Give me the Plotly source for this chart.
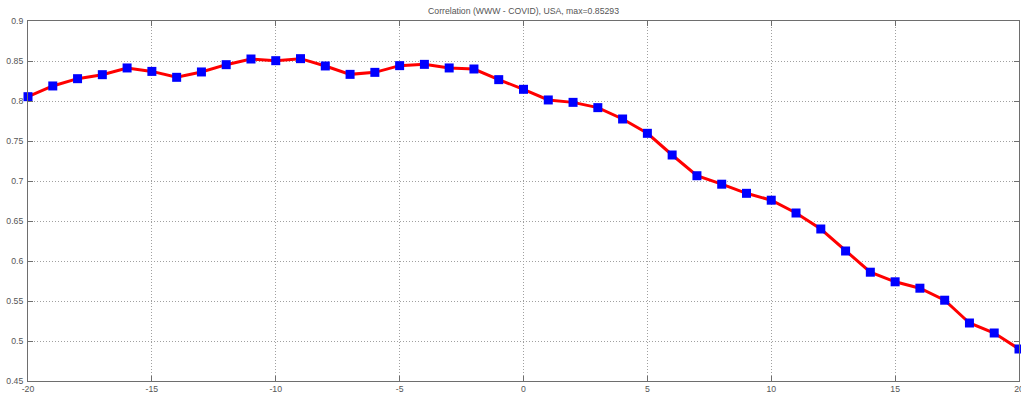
import plotly.graph_objects as go

# Lag (days) between web-search signal and COVID series
lags = list(range(-20, 21))

# Correlation coefficient at each lag
correlation = [
    0.8054, 0.8188, 0.8279, 0.8329, 0.8413, 0.8370, 0.8296, 0.8363, 0.8454,
    0.8525, 0.8504, 0.85293, 0.8438, 0.8333, 0.8358, 0.8442, 0.8458, 0.8413,
    0.8400, 0.8267, 0.8146, 0.8013, 0.7983, 0.7917, 0.7775, 0.7596, 0.7325,
    0.7066, 0.6960, 0.6846, 0.6760, 0.6600, 0.6400, 0.6125, 0.5860, 0.5740,
    0.5660, 0.5510, 0.5225, 0.5100, 0.4900,
]

x_ticks = [-20, -15, -10, -5, 0, 5, 10, 15, 20]
y_ticks = [0.45, 0.5, 0.55, 0.6, 0.65, 0.7, 0.75, 0.8, 0.85, 0.9]

title_text = "Correlation (WWW - COVID), USA, max=%.5f" % max(correlation)

font_family = "Liberation Sans, Arial, sans-serif"
text_color = "#555555"
axis_color = "#6e6e6e"
grid_color = "#a0a0a0"

fig = go.Figure()
fig.add_trace(go.Scatter(
    x=lags,
    y=correlation,
    mode="lines+markers",
    line=dict(color="#ff0000", width=3),
    marker=dict(symbol="square", size=9, color="#0000ff",
                line=dict(width=0)),
    cliponaxis=False,
    showlegend=False,
))

axis_common = dict(
    showline=True,
    linecolor=axis_color,
    linewidth=1,
    mirror="ticks",
    ticks="inside",
    ticklen=5,
    tickcolor=axis_color,
    showgrid=True,
    gridcolor=grid_color,
    griddash="1px,2px",
    gridwidth=1,
    zeroline=False,
    automargin=False,
    ticklabeloverflow="allow",
    tickfont=dict(family=font_family, size=8.7, color=text_color),
)

fig.update_xaxes(
    range=[-20, 20],
    tickvals=x_ticks,
    ticktext=[str(v) for v in x_ticks],
    ticklabelstandoff=0,
    **axis_common,
)
fig.update_yaxes(
    range=[0.45, 0.9],
    tickvals=y_ticks,
    ticktext=["%g" % v for v in y_ticks],
    ticklabelstandoff=2,
    **axis_common,
)

fig.update_layout(
    width=1021,
    height=395,
    margin=dict(l=28, r=2, t=21, b=14, autoexpand=False),
    paper_bgcolor="white",
    plot_bgcolor="white",
    title=dict(
        text=title_text,
        x=0.5,
        xref="paper",
        xanchor="center",
        y=1 - 10.5 / 395,
        yanchor="middle",
        font=dict(family=font_family, size=8.7, color=text_color),
    ),
)

fig.write_html("out.html")
